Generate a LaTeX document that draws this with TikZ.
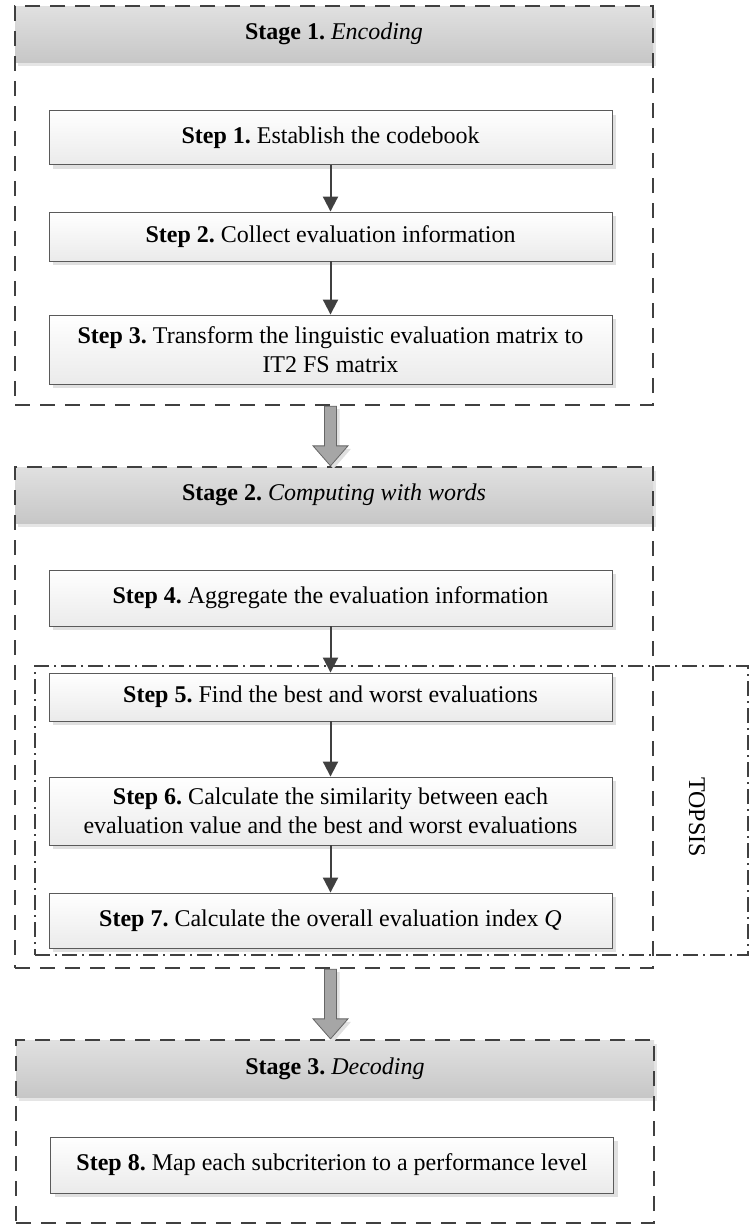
\documentclass[tikz,border=0pt]{standalone}
\usepackage{fontspec}
\setmainfont{Liberation Serif}
\usetikzlibrary{arrows.meta,calc,shadows}
\definecolor{edge}{HTML}{404040}
\definecolor{boxline}{HTML}{5A5A5A}
\frenchspacing
\begin{document}
\begin{tikzpicture}[x=1pt, y=-1pt, >={Triangle[width=15pt,length=15pt]},
    font=\fontsize{24}{29}\selectfont,
    stagebox/.style={draw=edge, line width=2.3pt, dash pattern=on 15pt off 10pt,
                     minimum width=638pt, inner sep=0pt},
    topsisbox/.style={draw=edge, line width=1.2pt, dash pattern=on 15pt off 5pt on 2pt off 5pt,
                      inner sep=0pt},
    hdr/.style={top color=black!12, bottom color=black!22, minimum width=638pt,
                minimum height=56pt, inner sep=0pt,
                drop shadow={shadow xshift=3pt, shadow yshift=-4pt, fill=black!10, opacity=1}},
    stepbox/.style={draw=boxline, line width=0.9pt, top color=white, bottom color=black!8,
                    minimum width=563pt, align=center, inner sep=2pt,
                    drop shadow={shadow xshift=4pt, shadow yshift=-4pt, fill=black!12, opacity=1}},
    bigarrow/.style={fill=black!35, draw=black!60, line width=0.8pt, line join=miter,
                     drop shadow={shadow xshift=3pt, shadow yshift=-3pt, fill=black!12, opacity=1}}]
    \useasboundingbox (0,0) rectangle (752,1227);
    % stage headers
    \node[hdr] (hdr1) at (334,34) {\textbf{Stage 1.} \textit{Encoding}};
    \node[hdr] (hdr2) at (334,495) {\textbf{Stage 2.} \textit{Computing with words}};
    \node[hdr, minimum height=57pt] (hdr3) at (335,1068.5) {\textbf{Stage 3.} \textit{Decoding}};
    % stage frames
    \node[stagebox, minimum height=399pt] (stage1) at (334,205.5) {};
    \node[stagebox, minimum height=501pt] (stage2) at (334,717.5) {};
    \node[stagebox, minimum height=183pt] (stage3) at (335,1131.5) {};
    % TOPSIS frame
    \node[topsisbox, minimum width=713pt, minimum height=289pt] (topsis) at (391.5,810.5) {};
    \node[rotate=-90] (topsislbl) at (697,817) {TOPSIS};
    % steps
    \node[stepbox, minimum height=54pt] (st1) at (330.5,137.5) {\textbf{Step 1.} Establish the codebook};
    \node[stepbox, minimum height=49pt] (st2) at (330.5,236.5) {\textbf{Step 2.} Collect evaluation information};
    \node[stepbox, minimum height=69pt] (st3) at (330.5,349.5)
        {\textbf{Step 3.} Transform the linguistic evaluation matrix to\\IT2 FS matrix};
    \node[stepbox, minimum height=56pt] (st4) at (330.5,598) {\textbf{Step 4.} Aggregate the evaluation information};
    \node[stepbox, minimum height=48pt] (st5) at (330.5,697) {\textbf{Step 5.} Find the best and worst evaluations};
    \node[stepbox, minimum height=68pt] (st6) at (330.5,811)
        {\textbf{Step 6.} Calculate the similarity between each\\evaluation value and the best and worst evaluations};
    \node[stepbox, minimum height=55pt] (st7) at (330.5,920.5) {\textbf{Step 7.} Calculate the overall evaluation index \textit{Q}};
    \node[stepbox, minimum height=56pt] (st8) at (332,1165) {\textbf{Step 8.} Map each subcriterion to a performance level};
    % step arrows
    \foreach \a/\b in {st1/st2,st2/st3,st4/st5,st5/st6,st6/st7}
        \draw[->, draw=edge, line width=2pt] (\a.south) -- (\b.north);
    % stage arrows
    \foreach \s/\t in {stage1/stage2,stage2/stage3} {
        \coordinate (from) at (\s.south -| st3.south);
        \coordinate (to) at (\t.north -| st3.south);
        \draw[bigarrow] ($(from)+(-6,0)$) -- ($(from)+(6,0)$) -- ($(to)+(6,-20)$) -- ($(to)+(17.5,-20)$)
            -- (to) -- ($(to)+(-17.5,-20)$) -- ($(to)+(-6,-20)$) -- cycle;
    }
\end{tikzpicture}
\end{document}
